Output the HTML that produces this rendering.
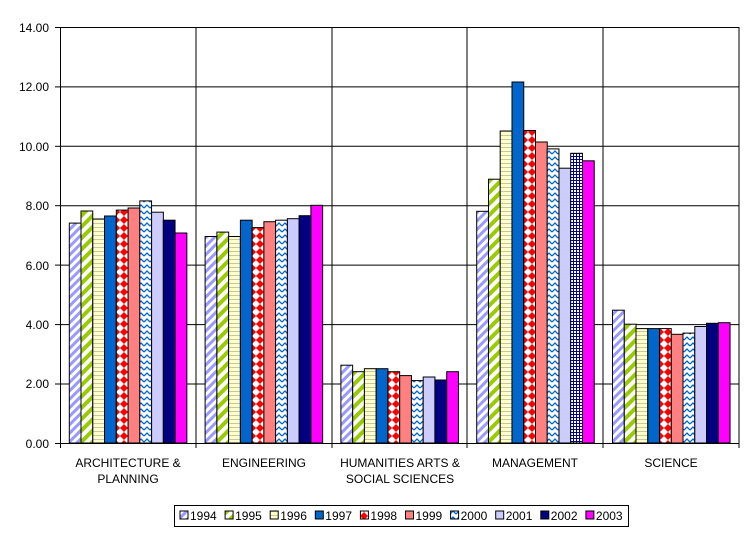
<!DOCTYPE html>
<html><head><meta charset="utf-8"><style>
html,body{margin:0;padding:0;background:#fff;}
svg{display:block;font-family:"Liberation Sans",Arial,sans-serif;}
</style></head><body>
<svg width="755" height="535" viewBox="0 0 755 535" xmlns="http://www.w3.org/2000/svg">
<defs>
<pattern id="p94" width="6" height="6" patternUnits="userSpaceOnUse" patternTransform="rotate(45)"><rect width="6" height="6" fill="#fff"/><rect width="3" height="6" fill="#9999ff"/></pattern>
<pattern id="p95" width="8" height="8" patternUnits="userSpaceOnUse" patternTransform="rotate(45)"><rect width="8" height="8" fill="#fff"/><rect width="4" height="8" fill="#99cc00"/></pattern>
<pattern id="p96" width="4" height="4" patternUnits="userSpaceOnUse"><rect width="4" height="4" fill="#ffffcc"/><rect y="3" width="4" height="1" fill="#c8c8a0"/></pattern>
<pattern id="p98" width="8" height="8" patternUnits="userSpaceOnUse"><rect width="8" height="8" fill="#fff"/><path d="M4 0L8 4L4 8L0 4Z" fill="#ff0000"/></pattern>
<pattern id="p00" width="6" height="6" patternUnits="userSpaceOnUse"><rect width="6" height="6" fill="#fff"/><path d="M0 4L3 1L6 4" stroke="#0066cc" stroke-width="1.3" fill="none"/></pattern>
<pattern id="pgrid" width="3" height="3" patternUnits="userSpaceOnUse"><rect width="3" height="3" fill="#fff"/><rect width="3" height="1" fill="#000080"/><rect width="1" height="3" fill="#000080"/></pattern>
</defs>
<rect width="755" height="535" fill="#fff"/>
<g stroke="#000" stroke-width="1">
<line x1="60" y1="27.5" x2="739" y2="27.5"/>
<line x1="60" y1="86.9" x2="739" y2="86.9"/>
<line x1="60" y1="146.3" x2="739" y2="146.3"/>
<line x1="60" y1="205.7" x2="739" y2="205.7"/>
<line x1="60" y1="265.1" x2="739" y2="265.1"/>
<line x1="60" y1="324.6" x2="739" y2="324.6"/>
<line x1="60" y1="384" x2="739" y2="384"/>
<line x1="196" y1="27" x2="196" y2="443"/>
<line x1="332" y1="27" x2="332" y2="443"/>
<line x1="467" y1="27" x2="467" y2="443"/>
<line x1="603" y1="27" x2="603" y2="443"/>
<line x1="739" y1="27" x2="739" y2="443"/>
</g>
<g id="bars" stroke="#000" stroke-width="1"></g>
<line x1="60.5" y1="27" x2="60.5" y2="448" stroke="#000"/>
<line x1="55" y1="443.5" x2="739" y2="443.5" stroke="#000"/>
<g stroke="#000">
<line x1="55" y1="27.5" x2="60" y2="27.5"/><line x1="55" y1="86.9" x2="60" y2="86.9"/><line x1="55" y1="146.3" x2="60" y2="146.3"/><line x1="55" y1="205.7" x2="60" y2="205.7"/><line x1="55" y1="265.1" x2="60" y2="265.1"/><line x1="55" y1="324.6" x2="60" y2="324.6"/><line x1="55" y1="384" x2="60" y2="384"/>
<line x1="196" y1="443" x2="196" y2="448"/><line x1="332" y1="443" x2="332" y2="448"/><line x1="467" y1="443" x2="467" y2="448"/><line x1="603" y1="443" x2="603" y2="448"/><line x1="739" y1="443" x2="739" y2="448"/>
</g>
<g font-size="12" text-anchor="end" fill="#000">
<text x="49" y="32">14.00</text><text x="49" y="91">12.00</text><text x="49" y="151">10.00</text><text x="49" y="210">8.00</text><text x="49" y="270">6.00</text><text x="49" y="329">4.00</text><text x="49" y="388">2.00</text><text x="49" y="448">0.00</text>
</g>
<g font-size="12" text-anchor="middle" fill="#000">
<text x="128" y="467">ARCHITECTURE &amp;</text><text x="128" y="483">PLANNING</text>
<text x="264" y="467">ENGINEERING</text>
<text x="400" y="467">HUMANITIES ARTS &amp;</text><text x="400" y="483">SOCIAL SCIENCES</text>
<text x="535" y="467">MANAGEMENT</text>
<text x="671" y="467">SCIENCE</text>
</g>
<rect x="174.5" y="505.5" width="454" height="21" fill="#fff" stroke="#000"/>
<g id="legend" font-size="12" fill="#000"></g>
<script>
var fills=["url(#p94)","url(#p95)","url(#p96)","#0066cc","url(#p98)","#ff8080","url(#p00)","#ccccff","#000080","#ff00ff"];
var data=[[7.4,7.81,7.54,7.64,7.84,7.91,8.15,7.77,7.5,7.07],
[6.95,7.1,6.95,7.5,7.25,7.45,7.5,7.55,7.65,8.0],
[2.62,2.4,2.5,2.5,2.4,2.27,2.1,2.22,2.12,2.4],
[7.8,8.88,10.5,12.15,10.52,10.13,9.9,9.25,9.75,9.5],
[4.47,4.0,3.85,3.85,3.85,3.66,3.7,3.92,4.03,4.05]];
var ns="http://www.w3.org/2000/svg",g=document.getElementById("bars");
var gw=135.8,bw=11.75;
for(var c=0;c<5;c++)for(var i=0;i<10;i++){var v=data[c][i];var h=v*29.71;var r=document.createElementNS(ns,"rect");
r.setAttribute("x",(60+c*gw+9.3+i*bw).toFixed(1));r.setAttribute("y",(443-h).toFixed(1));r.setAttribute("width",bw.toFixed(2));r.setAttribute("height",h.toFixed(1));r.setAttribute("fill",(c==3&&i==8)?"url(#pgrid)":fills[i]);g.appendChild(r);}
var lg=document.getElementById("legend");
for(var i=0;i<10;i++){var x=180+i*45.1;var r=document.createElementNS(ns,"rect");r.setAttribute("x",x);r.setAttribute("y",511);r.setAttribute("width",8);r.setAttribute("height",8);r.setAttribute("fill",fills[i]);r.setAttribute("stroke","#000");lg.appendChild(r);
var t=document.createElementNS(ns,"text");t.setAttribute("x",x+10);t.setAttribute("y",520);t.textContent=String(1994+i);lg.appendChild(t);}
</script>
</svg>
</body></html>
